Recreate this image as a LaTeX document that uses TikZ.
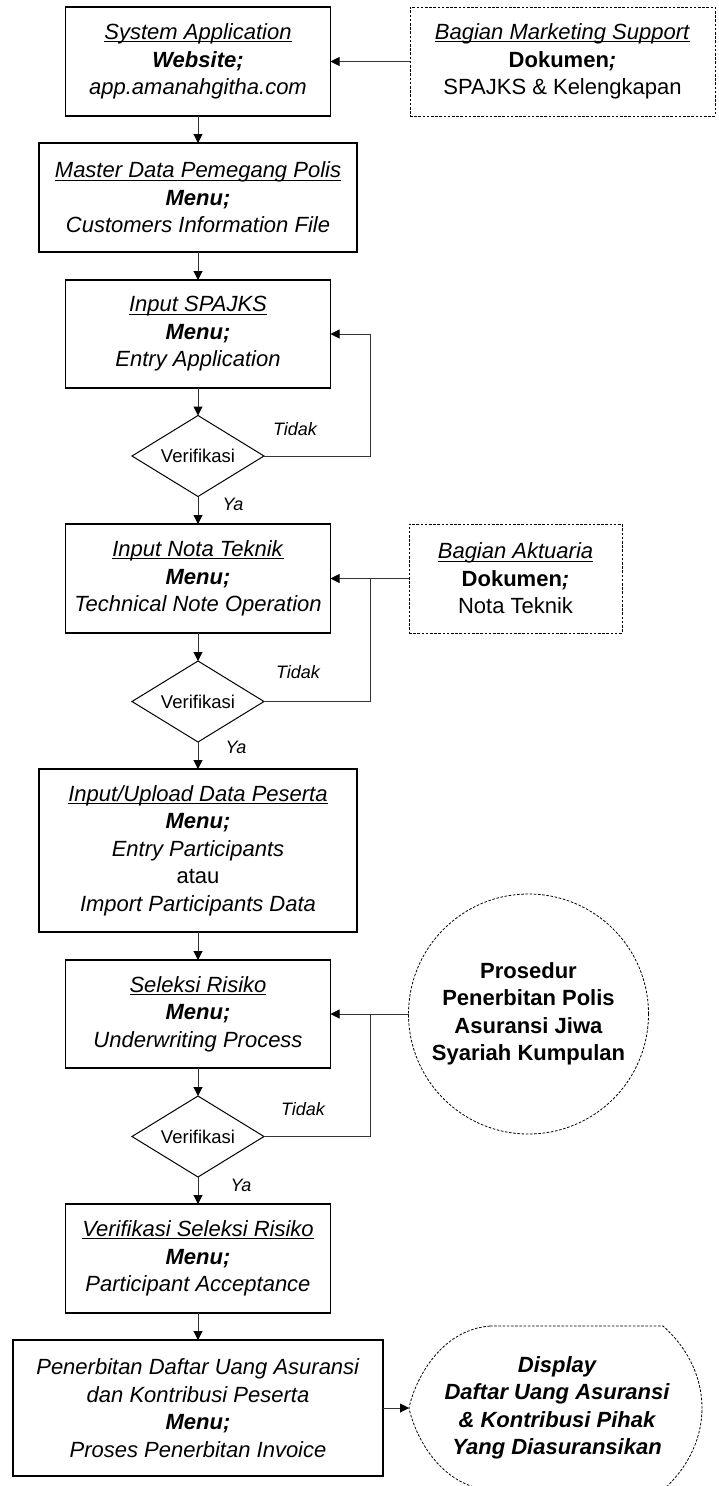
\documentclass[tikz,border=0pt]{standalone}
\usepackage{fontspec}
\setmainfont{Liberation Sans}
\usetikzlibrary{arrows.meta,shapes.geometric}

% underline that sits just below the baseline
\newcommand\undl[1]{\setbox0\hbox{#1}\rlap{\rule[-2.6pt]{\wd0}{0.9pt}}\box0}

\begin{document}
\begin{tikzpicture}[x=1pt,y=-1pt,
  every node/.style={inner sep=0pt,outer sep=0pt},
  bigtext/.style={font=\fontsize{22}{27.5}\selectfont,align=center},
  smalltext/.style={font=\fontsize{18.5}{22}\selectfont},
  procbox/.style={bigtext,draw=black,line width=1.1pt},
  dashbox/.style={bigtext,draw=black,line width=0.8pt,dash pattern=on 2.6pt off 1.6pt},
  dashline/.style={draw=black,line width=0.8pt,dash pattern=on 2.6pt off 1.6pt},
  decision/.style={smalltext,diamond,aspect=1.63,draw=black,line width=1pt,
    minimum width=132pt,minimum height=81pt},
  lbl/.style={smalltext,font=\fontsize{18}{22}\selectfont\itshape},
  conn/.style={draw=black!80,line width=1pt,-{Triangle[length=9pt,width=9pt,color=black]}},
  plain/.style={draw=black!80,line width=1pt}
]
\useasboundingbox (0,0) rectangle (718,1486);

% main column
\node[procbox,minimum width=265pt,minimum height=109pt] (b1) at (198,61.5)
  {\undl{\textit{System Application}}\\\textbf{\textit{Website;}}\\\textit{app.amanahgitha.com}};
\node[dashbox,minimum width=305pt,minimum height=109pt] (mk) at (562.5,61.5)
  {\undl{\textit{Bagian Marketing Support}}\\\textbf{Dokumen\textit{;}}\\SPAJKS \& Kelengkapan};
\node[procbox,minimum width=318pt,minimum height=109pt] (b2) at (198,197.5)
  {\undl{\textit{Master Data Pemegang Polis}}\\\textbf{\textit{Menu;}}\\\textit{Customers Information File}};
\node[procbox,minimum width=265pt,minimum height=108pt] (b3) at (198,334)
  {\undl{\textit{Input SPAJKS}}\\\textbf{\textit{Menu;}}\\\textit{Entry Application}};
\node[decision] (d1) at (198,456) {Verifikasi};
\node[procbox,minimum width=265pt,minimum height=109pt] (b4) at (198,578.5)
  {\undl{\textit{Input Nota Teknik}}\\\textbf{\textit{Menu;}}\\\textit{Technical Note Operation}};
\node[dashbox,minimum width=213pt,minimum height=109pt] (ak) at (515.5,578.5)
  {\undl{\textit{Bagian Aktuaria}}\\\textbf{Dokumen\textit{;}}\\Nota Teknik};
\node[decision] (d2) at (198,701.5) {Verifikasi};
\node[procbox,minimum width=318pt,minimum height=163pt] (b5) at (198,850.5)
  {\undl{\textit{Input/Upload Data Peserta}}\\\textbf{\textit{Menu;}}\\\textit{Entry Participants}\\atau\\\textit{Import Participants Data}};
\node[procbox,minimum width=265pt,minimum height=108pt] (b6) at (198,1014)
  {\undl{\textit{Seleksi Risiko}}\\\textbf{\textit{Menu;}}\\\textit{Underwriting Process}};
\node[dashbox,circle,minimum size=240pt] (circ) at (528.5,1014)
  {\textbf{Prosedur}\\\textbf{Penerbitan Polis}\\\textbf{Asuransi Jiwa}\\\textbf{Syariah Kumpulan}};
\node[decision] (d3) at (198,1136.5) {Verifikasi};
\node[procbox,minimum width=265pt,minimum height=109pt] (b7) at (198,1258.5)
  {\undl{\textit{Verifikasi Seleksi Risiko}}\\\textbf{\textit{Menu;}}\\\textit{Participant Acceptance}};
\node[procbox,minimum width=370pt,minimum height=136pt] (b8) at (198,1408)
  {\textit{Penerbitan Daftar Uang Asuransi}\\\textit{dan Kontribusi Peserta}\\\textbf{\textit{Menu;}}\\\textit{Proses Penerbitan Invoice}};

% display symbol
\draw[dashline] (490,1326) -- (663,1326)
  .. controls (690,1350) and (702,1380) .. (702,1408)
  .. controls (702,1436) and (690,1466) .. (663,1490)
  -- (490,1490)
  .. controls (440,1486) and (415,1436) .. (409,1408)
  .. controls (415,1380) and (440,1330) .. (490,1326) -- cycle;
\coordinate (disptip) at (409,1408);
\node[bigtext,font=\fontsize{22}{27.5}\selectfont\bfseries\itshape] (disp) at (557,1408)
  {Display\\Daftar Uang Asuransi\\\& Kontribusi Pihak\\Yang Diasuransikan};

% branch labels
\node[lbl] (t1) at (295,429) {Tidak};
\node[lbl] (y1) at (233,504) {Ya};
\node[lbl] (t2) at (298,672) {Tidak};
\node[lbl] (y2) at (236,747) {Ya};
\node[lbl] (t3) at (303,1109) {Tidak};
\node[lbl] (y3) at (241,1185) {Ya};

% main flow
\draw[conn] (b1.south) -- (b2.north);
\draw[conn] (b2.south) -- (b3.north);
\draw[conn] (b3.south) -- (d1.north);
\draw[conn] (d1.south) -- (b4.north);
\draw[conn] (b4.south) -- (d2.north);
\draw[conn] (d2.south) -- (b5.north);
\draw[conn] (b5.south) -- (b6.north);
\draw[conn] (b6.south) -- (d3.north);
\draw[conn] (d3.south) -- (b7.north);
\draw[conn] (b7.south) -- (b8.north);
\draw[conn] (b8.east) -- (disptip);

% inputs from the side
\draw[conn] (mk.west) -- (b1.east);
\draw[conn] (ak.west) -- (b4.east);
\draw[conn] (circ.west) -- (b6.east);

% rejection loops
\coordinate (jx) at (370,0);
\draw[conn] (d1.east) -- (d1.east -| jx) |- (b3.east);
\draw[plain] (d2.east) -- (d2.east -| jx) -- (b4.east -| jx);
\draw[plain] (d3.east) -- (d3.east -| jx) -- (b6.east -| jx);
\end{tikzpicture}
\end{document}
